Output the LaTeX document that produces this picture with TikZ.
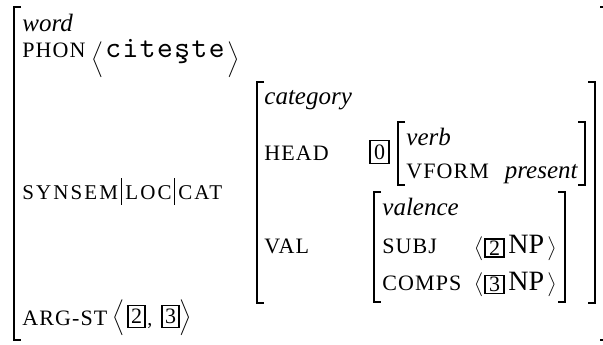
\documentclass[tikz,border=0pt]{standalone}
\usepackage{amsmath}
\usepackage{fontspec}
\setmainfont{Liberation Serif}
\newfontfamily\featfont[LetterSpace=5]{Liberation Serif}
\newfontfamily\pathfont[LetterSpace=10]{Liberation Serif}
\newfontfamily\phonfont[LetterSpace=5]{lmmono10-regular.otf}
\usetikzlibrary{positioning}

% square brackets round an AVM, from (#1-nw) to (#1-se)
\newcommand{\avmbrackets}[1]{%
	\draw[brk] (#1-nw) ++(7,0) -- (#1-nw) -- (#1-nw |- #1-se) -- ++(7,0);
	\draw[brk] (#1-nw -| #1-se) ++(-7,0) -- (#1-nw -| #1-se) -- (#1-se) -- ++(-7,0);
}

\begin{document}
\begin{tikzpicture}[
	x=0.5pt, y=-0.5pt,
	every node/.style={inner sep=0pt, anchor=base west},
	feat/.style={font=\fontsize{11}{13}\featfont},
	path/.style={font=\fontsize{10.5}{13}\pathfont},
	type/.style={font=\fontsize{12.5}{14}\selectfont\itshape},
	tag/.style={draw, line width=0.9pt, anchor=center, font=\fontsize{11}{12}\selectfont,
		minimum width=9.5pt, minimum height=9pt},
	ang/.style={anchor=center},
	brk/.style={line width=0.65pt}
	]
	\useasboundingbox (0,0) rectangle (603,344);
	\clip (0,0) rectangle (603,344);
	
	%--- corners of the matrices ---
	\coordinate (word-nw) at (14,7);    \coordinate (word-se) at (607,340);
	\coordinate (cat-nw)  at (257,82);  \coordinate (cat-se)  at (595,303);
	\coordinate (verb-nw) at (398,122); \coordinate (verb-se) at (585,185);
	\coordinate (val-nw)  at (374,192); \coordinate (val-se)  at (565,302);
	
	\avmbrackets{word}
	\avmbrackets{cat}
	\avmbrackets{verb}
	\avmbrackets{val}
	
	%--- word ---
	\node[type] (word) at (22,31) {word};
	\node[feat] (phon) at (22,57) {PHON};
	\node[ang] (phonL) at (98,60) {$\Big\langle$};
	\node[font=\fontsize{15}{16}\phonfont] (form) at (105,57) {citeşte};
	\node[ang] (phonR) at (234,60) {$\Big\rangle$};
	
	\node[path] (synsem) at (22,199) {SYNSEM};
	\node[path] (loc) at (125,199) {LOC};
	\node[path] (catp) at (178,199) {CAT};
	\draw[line width=0.5pt] (121,178) -- (121,205);
	\draw[line width=0.5pt] (174,178) -- (174,205);
	
	%--- category ---
	\node[type] (cat) at (264,104) {category};
	\node[feat] (head) at (264,160) {HEAD};
	\node[tag, minimum height=11.5pt] (tag0) at (379.5,152) {0};
	\node[type] (verb) at (406,145) {verb};
	\node[feat] (vform) at (406,178) {VFORM};
	\node[type, anchor=base east] (pres) at (578,178) {present};
	
	\node[feat] (val) at (264,253) {VAL};
	
	%--- valence ---
	\node[type] (valence) at (382,215) {valence};
	\node[feat] (subj) at (382,253) {SUBJ};
	\node[ang] (subjL) at (479,249) {$\big\langle$};
	\node[tag] (tag2) at (494.5,248) {2};
	\node[font=\fontsize{14}{15}\selectfont] (np2) at (508,253) {NP};
	\node[ang] (subjR) at (552,249) {$\big\rangle$};
	
	\node[feat] (comps) at (382,290) {COMPS};
	\node[ang] (compsL) at (479,285) {$\big\langle$};
	\node[tag] (tag3) at (494.5,284.5) {3};
	\node[font=\fontsize{14}{15}\selectfont] (np3) at (508,290) {NP};
	\node[ang] (compsR) at (552,285) {$\big\rangle$};
	
	%--- argument structure ---
	\node[feat] (argst) at (22,325) {ARG-ST};
	\node[ang] (argL) at (119,318) {$\Big\langle$};
	\node[tag, minimum width=8.5pt, minimum height=11pt] (arg2) at (136.5,316.5) {2};
	\node (comma) at (147,325) {,};
	\node[tag, minimum width=8.5pt, minimum height=11pt] (arg3) at (170.5,316.5) {3};
	\node[ang] (argR) at (186,318) {$\Big\rangle$};
	
\end{tikzpicture}
\end{document}
